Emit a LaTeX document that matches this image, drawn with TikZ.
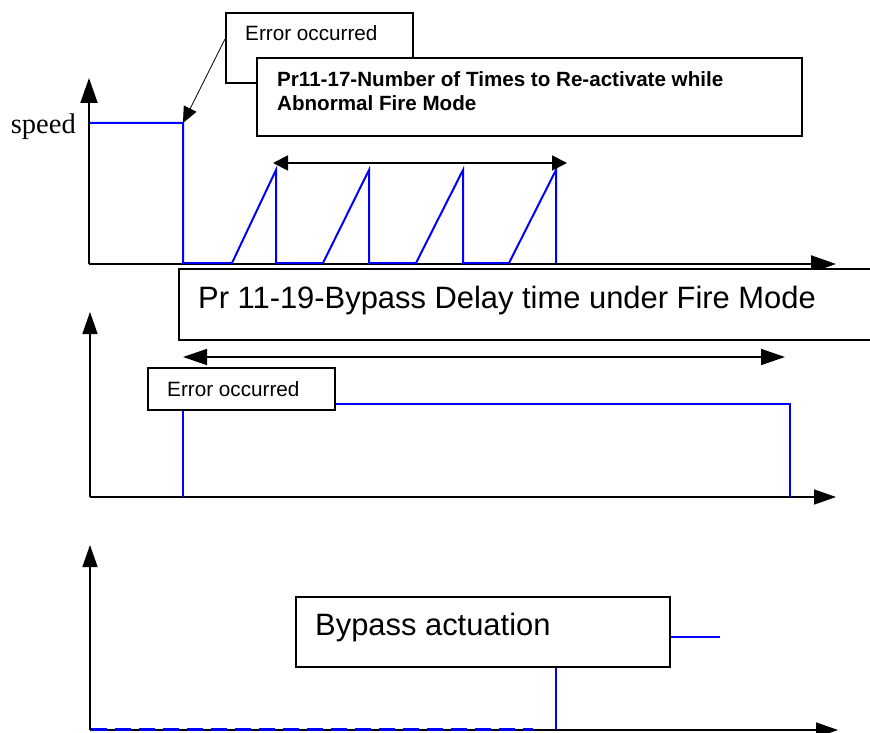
\documentclass[tikz,border=0pt]{standalone}
\usepackage{fontspec}
\setmainfont{Liberation Serif}
\newfontfamily\arialf{Liberation Sans}
\usetikzlibrary{arrows.meta}
\begin{document}
\begin{tikzpicture}[x=1pt,y=-1pt,
  axisT/.style={line width=2pt,-{Triangle[length=25pt,width=17pt]}},
  axisM/.style={line width=1.5pt,-{Triangle[length=22pt,width=15pt]}},
  sig/.style={blue,line width=2pt},
  boxed/.style={draw,fill=white,line width=1.8pt,inner sep=0pt,anchor=north west},
  lbl/.style={anchor=base west,inner sep=0pt},
]
\clip (0,0) rectangle (870,733);
\useasboundingbox (0,0) rectangle (870,733);

% ---------- top chart ----------
\coordinate (o1) at (89,264);
\coordinate (y1) at (89,78);
\coordinate (x1) at (836,264);
\draw[axisT] (o1) -- (y1);
\draw[axisT] (o1) -- (x1);
\coordinate (sp0) at (89,123);
\coordinate (sp1) at (183,123);
\draw[sig] (sp0) -- (sp1) -- (183,263) -- (232,263) -- (276,170) -- (276,263)
  -- (323,263) -- (369,170) -- (369,263) -- (416,263) -- (463,170) -- (463,263)
  -- (509,263) -- (556,170) -- (556,263);
\node[anchor=base east,inner sep=0pt,font=\fontsize{28.5}{30}\selectfont] (speed) at (76,134) {speed};
\coordinate (ra) at (273,163);
\coordinate (rb) at (567,163);
\draw[line width=1.8pt,{Triangle[length=15pt,width=15pt]}-{Triangle[length=15pt,width=15pt]}] (ra) -- (rb);

\node[boxed,minimum width=187pt,minimum height=70pt] (err1) at (225,12) {};
\node[lbl,font=\arialf\fontsize{20.7}{24}\selectfont] (err1t) at (245,41) {Error occurred};
\coordinate (e1s) at (225,39);
\draw[line width=0.8pt,-{Triangle[length=16pt,width=14pt]}] (e1s) -- (sp1);
\node[boxed,minimum width=545pt,minimum height=78pt] (pr17) at (256,57) {};
\node[anchor=north west,inner sep=0pt,align=left,font=\arialf\bfseries\fontsize{20.6}{24}\selectfont] (pr17t) at (277,71) {Pr11-17-Number of Times to Re-activate while\\Abnormal Fire Mode};

% ---------- middle chart ----------
\coordinate (o2) at (90,497);
\coordinate (y2) at (90,312);
\coordinate (x2) at (836,497);
\draw[axisM] (o2) -- (y2);
\draw[axisM] (o2) -- (x2);
\draw[sig] (183,497) -- (183,404) -- (790,404) -- (790,497);
\coordinate (da) at (183,357);
\coordinate (db) at (785,357);
\draw[line width=1.5pt,{Triangle[length=24pt,width=16pt]}-{Triangle[length=24pt,width=16pt]}] (da) -- (db);
\node[boxed,minimum width=720pt,minimum height=71pt] (pr19) at (178,268) {};
\node[lbl,font=\arialf\fontsize{30.9}{34}\selectfont] (pr19t) at (198,308) {Pr 11-19-Bypass Delay time under Fire Mode};
\node[boxed,minimum width=187pt,minimum height=42pt] (err2) at (147,367) {};
\node[lbl,font=\arialf\fontsize{20.7}{24}\selectfont] (err2t) at (167,396) {Error occurred};

% ---------- bottom chart ----------
\coordinate (o3) at (90,730);
\coordinate (y3) at (90,545);
\coordinate (x3) at (838,730);
\draw[axisM] (o3) -- (y3);
\draw[axisM] (o3) -- (x3);
\coordinate (ds0) at (91,729.5);
\coordinate (dsh) at (533,729.5);
\draw[blue,line width=3pt,dash pattern=on 16pt off 8pt] (ds0) -- (dsh);
\draw[sig] (556,730) -- (556,637) -- (720,637);
\node[boxed,minimum width=374pt,minimum height=70pt] (byp) at (295,596) {};
\node[lbl,font=\arialf\fontsize{30.9}{34}\selectfont] (bypt) at (315,635) {Bypass actuation};
\end{tikzpicture}
\end{document}
